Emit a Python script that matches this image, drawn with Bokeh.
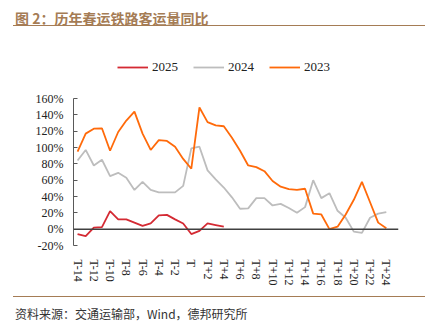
from bokeh.plotting import figure
from bokeh.models import (Range1d, FixedTicker, Span, Div, Legend, LegendItem,
                          ColumnDataSource)
from bokeh.layouts import column
from bokeh.embed import file_html
from bokeh.resources import INLINE

# ---- data ----
days = [f"T-{k}" for k in range(14, 0, -1)] + ["T"] + [f"T+{k}" for k in range(1, 26)]
y2025 = [-6, -8.6, 2, 2.5, 22, 12, 12, 8, 4, 7, 17, 17.5, 12, 7, -6, -2, 7, 5, 3]
y2024 = [84, 97, 78, 85, 65, 69, 63, 48, 58, 48, 45, 45, 45, 53, 99, 101, 72, 61,
         51, 39, 25, 25.5, 38, 38, 29, 31, 26, 20, 27, 60, 38, 44, 22.5, 14, -3,
         -4.5, 14, 19, 21]
y2023 = [95, 117, 123, 123.5, 96, 119, 133, 144, 117, 97, 109, 108, 101, 86, 74,
         149, 131, 127, 126, 112, 96, 78, 76, 71, 59, 52, 49, 48, 49.5, 19, 18, 0,
         3, 18, 36, 58, 33, 8, 1]
series_names = ["2025", "2024", "2023"]
y_ticks = [-20, 0, 20, 40, 60, 80, 100, 120, 140, 160]
title_text = "图 2：历年春运铁路客运量同比"
source_text = "资料来源：交通运输部，Wind，德邦研究所"

colors = {"2025": "#D42A33", "2024": "#BDBDBD", "2023": "#FF6A0A"}
values = {"2025": y2025, "2024": y2024, "2023": y2023}

W = 434
TITLE_H, SRC_H = 34, 44
PLOT_H = 336 - TITLE_H - SRC_H
brown = "#A57C55"
serif = "Liberation Serif"

# frame geometry (page pixels): 160% at y=98, -20% at y=245, frame top at 56
FRAME_TOP, FRAME_BOTTOM, Y160 = 56, 245, 98
y_end = -20 + 180 * (FRAME_BOTTOM - FRAME_TOP) / (FRAME_BOTTOM - Y160)

title_div = Div(
    text=(f'<div style="margin-left:13px;width:412px;height:26px;padding-top:5px;'
          f'border-bottom:1.5px solid {brown};">'
          f'<span style="padding-left:2px;font-family:\'Noto Sans CJK SC\';font-weight:bold;'
          f'font-size:14px;line-height:26px;color:{brown};white-space:nowrap;">{title_text}</span></div>'),
    width=W, height=TITLE_H, margin=0)

src_div = Div(
    text=(f'<div style="margin-left:13px;width:412px;margin-top:4px;'
          f'border-top:1.5px solid {brown};padding-top:5px;">'
          f'<span style="padding-left:2px;font-family:\'Noto Sans CJK SC\';'
          f'font-size:12px;line-height:24px;color:#333333;white-space:nowrap;">{source_text}</span></div>'),
    width=W, height=SRC_H, margin=0)

p = figure(width=W, height=PLOT_H, output_backend="svg", toolbar_location=None,
           x_range=Range1d(-0.5, len(days) - 0.5), y_range=Range1d(-20, y_end),
           min_border_left=73, min_border_right=36, min_border_top=FRAME_TOP - TITLE_H,
           min_border_bottom=PLOT_H - (FRAME_BOTTOM - TITLE_H), margin=0)
p.outline_line_color = None
p.xgrid.visible = False
p.ygrid.visible = False

# y axis
p.yaxis.ticker = FixedTicker(ticks=y_ticks)
p.yaxis.bounds = (-20, 160)
p.yaxis.major_label_overrides = {v: f"{v}%" for v in y_ticks}
p.yaxis.major_tick_in = 4
p.yaxis.major_tick_out = 0
p.yaxis.minor_tick_line_color = None
p.yaxis.axis_line_color = "#595959"
p.yaxis.major_tick_line_color = "#595959"
p.yaxis.major_label_text_font = serif
p.yaxis.major_label_text_font_size = "12px"
p.yaxis.major_label_text_color = "#222222"
p.yaxis.major_label_standoff = 10

# x axis
xt = list(range(0, len(days), 2))[:20]
p.xaxis.ticker = FixedTicker(ticks=xt)
p.xaxis.major_label_overrides = {i: days[i] for i in xt}
p.xaxis.major_label_orientation = "vertical"
p.xaxis.axis_line_color = None
p.xaxis.major_tick_line_color = None
p.xaxis.minor_tick_line_color = None
p.xaxis.major_label_text_font = serif
p.xaxis.major_label_text_font_size = "12px"
p.xaxis.major_label_text_color = "#222222"
p.xaxis.major_label_standoff = 8

# zero line
p.add_layout(Span(location=0, dimension="width", line_color="#404040", line_width=1.5))

items = []
for name in series_names:
    ys = values[name]
    src = ColumnDataSource(dict(x=list(range(len(ys))), y=ys))
    r = p.line("x", "y", source=src, line_color=colors[name], line_width=1.8)
    items.append(LegendItem(label=name, renderers=[r]))

legend = Legend(items=items, orientation="horizontal",
                location=(44, FRAME_BOTTOM - 75),
                padding=0, margin=0, spacing=15, glyph_width=31, glyph_height=14,
                label_height=14, label_standoff=4, border_line_color=None,
                background_fill_alpha=0, label_text_font=serif,
                label_text_font_size="13px", label_text_color="#222222")
p.add_layout(legend)

layout = column(title_div, p, src_div, spacing=0, margin=0)
open("out.html", "w").write(file_html(layout, INLINE))
